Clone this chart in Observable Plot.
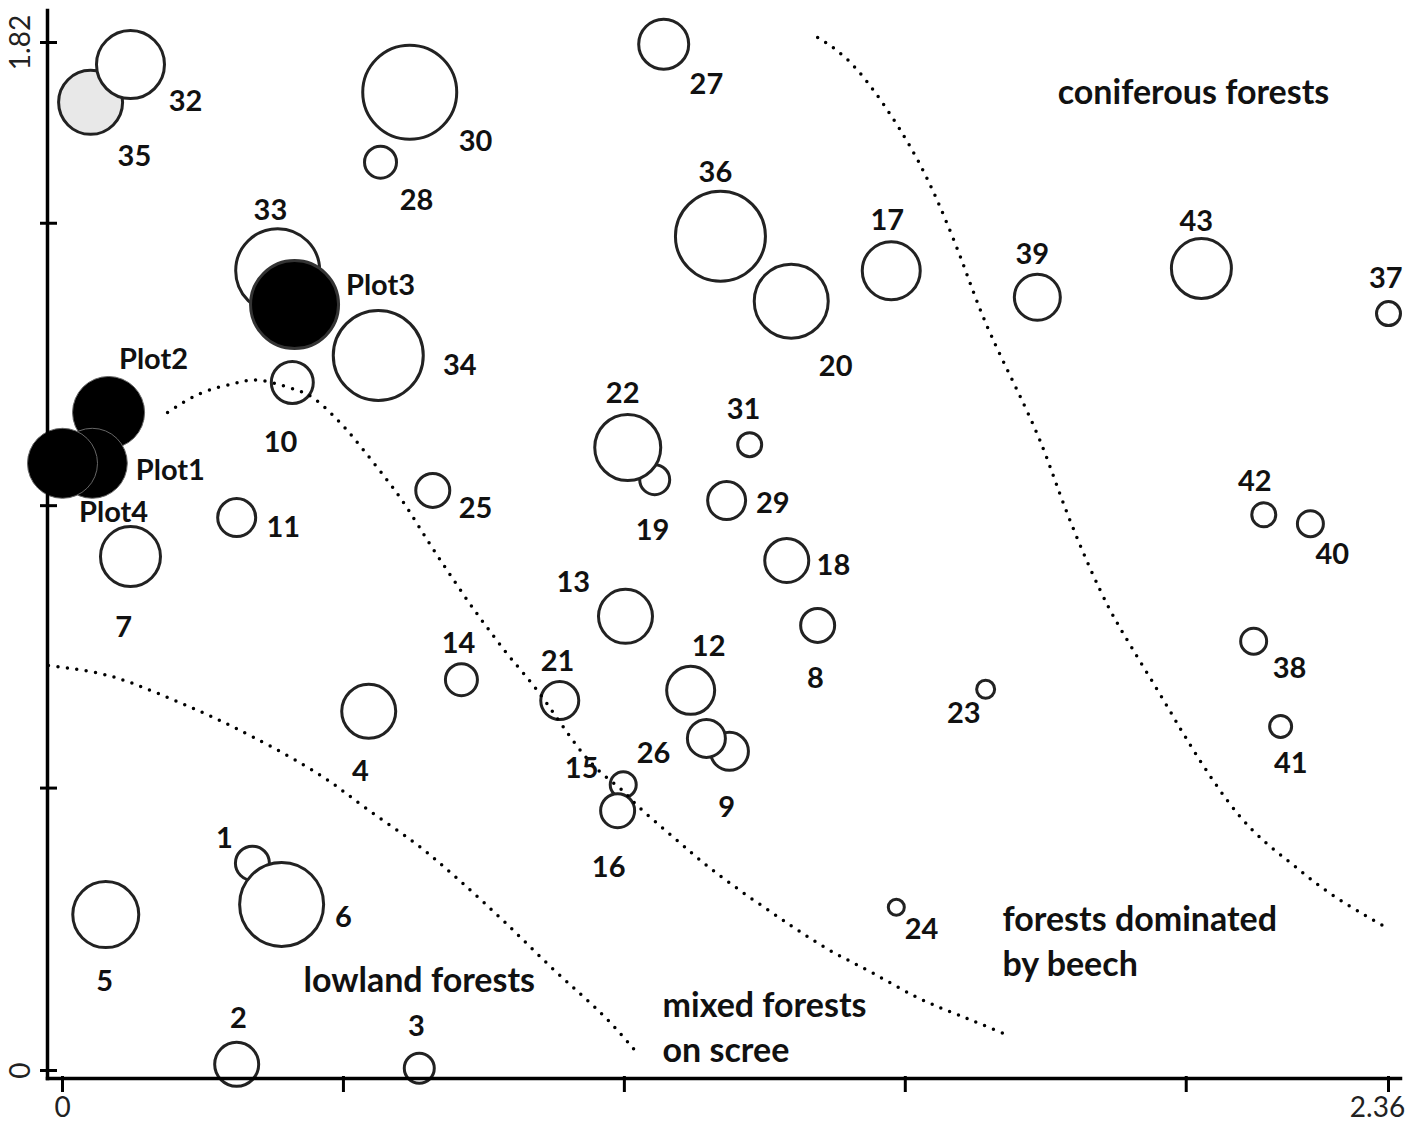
<!DOCTYPE html>
<html><head><meta charset="utf-8">
<script src="https://cdn.jsdelivr.net/npm/d3@7"></script>
<script src="https://cdn.jsdelivr.net/npm/@observablehq/plot@0.6"></script>
<style>body{margin:0;background:#fff;} svg{display:block;}</style>
</head><body><div id="chart"></div>
<script>
// Sites in drawing order (later ones on top)
const siteIds   = ["19","22","9","26","15","16","35","32","1","6","33","2","3","4","5","7","8","10","11","12","13","14","17","18","20","21","23","24","25","27","28","29","30","31","34","36","37","38","39","40","41","42","43","Plot2","Plot1","Plot4","Plot3"];
const siteX     = [1.054,1.006,1.187,1.146,0.998,0.988,0.050,0.121,0.338,0.390,0.383,0.310,0.635,0.545,0.077,0.121,1.344,0.409,0.310,1.118,1.002,0.710,1.475,1.289,1.297,0.885,1.643,1.484,0.659,1.070,0.566,1.182,0.618,1.223,0.562,1.171,2.360,2.120,1.735,2.221,2.168,2.138,2.027,0.082,0.053,0.000,0.413];
const siteY     = [1.046,1.103,0.565,0.588,0.506,0.460,1.714,1.781,0.367,0.294,1.416,0.011,0.004,0.636,0.276,0.910,0.788,1.218,0.979,0.673,0.804,0.692,1.416,0.903,1.362,0.655,0.675,0.289,1.027,1.817,1.608,1.009,1.732,1.108,1.266,1.477,1.340,0.760,1.369,0.968,0.609,0.984,1.420,1.165,1.075,1.075,1.356];
const siteSize  = [15,33,19,19,13,17,32,34,17,42,42,22,15,27,33,30,17,21,19,24,27,16,29,22,37,19,9,8,17,25,16,19,47,12,45,45,12,13,23,13,11,12,30,36,35,35,44];
const siteGroup = ["site","site","site","site","site","site","highlight","site","site","site","site","site","site","site","site","site","site","site","site","site","site","site","site","site","site","site","site","site","site","site","site","site","site","site","site","site","site","site","site","site","site","site","site","plot","plot","plot","plot"];
const labelX    = [1.050,0.997,1.182,1.052,0.924,0.972,0.128,0.219,0.288,0.500,0.370,0.313,0.630,0.530,0.075,0.109,1.340,0.388,0.393,1.150,0.909,0.705,1.468,1.372,1.376,0.881,1.604,1.529,0.735,1.146,0.630,1.264,0.735,1.212,0.707,1.162,2.355,2.184,1.726,2.260,2.186,2.122,2.018,0.162,0.192,0.091,0.566];
const labelY    = [0.956,1.199,0.466,0.561,0.535,0.359,1.618,1.716,0.411,0.271,1.523,0.092,0.078,0.529,0.158,0.784,0.694,1.112,0.961,0.751,0.864,0.756,1.505,0.894,1.246,0.724,0.632,0.250,0.995,1.746,1.540,1.004,1.645,1.169,1.248,1.590,1.402,0.712,1.445,0.914,0.544,1.043,1.503,1.259,1.061,0.988,1.390];

// Dotted boundaries between forest types
const lowlandX = [-0.025,0.066,0.144,0.242,0.340,0.454,0.538,0.628,0.707,0.790,0.876,0.959,1.020];
const lowlandY = [0.717,0.703,0.678,0.637,0.590,0.526,0.466,0.402,0.336,0.260,0.177,0.101,0.034];
const screeX = [0.187,0.246,0.304,0.352,0.406,0.447,0.495,0.536,0.578,0.614,0.650,0.685,0.721,0.756,0.797,0.845,0.892,0.945,0.993,1.023,1.087,1.153,1.224,1.296,1.367,1.443,1.522,1.598,1.678];
const screeY = [1.165,1.199,1.216,1.222,1.208,1.190,1.146,1.098,1.045,0.995,0.938,0.885,0.832,0.784,0.731,0.673,0.607,0.540,0.499,0.469,0.413,0.358,0.306,0.257,0.212,0.172,0.129,0.097,0.064];
const coniferX = [1.344,1.415,1.499,1.557,1.605,1.653,1.730,1.783,1.846,1.901,1.960,2.013,2.097,2.180,2.257,2.356];
const coniferY = [1.829,1.771,1.652,1.540,1.422,1.301,1.138,1.000,0.852,0.752,0.655,0.567,0.448,0.372,0.313,0.253];

// Region names
const regionCenterNames = ["coniferous forests","lowland forests"];
const regionCenterX = [2.013,0.635];
const regionCenterY = [1.730,0.158];
const regionStartNames = ["forests dominated\nby beech","mixed forests\non scree"];
const regionStartX = [1.673,1.068];
const regionStartY = [0.233,0.080];

// Axes
const xTicks = [0,0.5,1,1.5,2,2.36];
const yTicks = [0,0.5,1,1.5,1.82];
const xTickLabels = [0,2.36];
const yTickLabels = [0,1.82];

const sites = siteIds.map((id,i)=>({id, x:siteX[i], y:siteY[i], size:siteSize[i], group:siteGroup[i], lx:labelX[i], ly:labelY[i]}));
const toPts = (xs,ys)=>xs.map((x,i)=>({x, y:ys[i]}));
const curves = [toPts(lowlandX,lowlandY), toPts(screeX,screeY), toPts(coniferX,coniferY)];

const dotted = {x:"x", y:"y", curve:"natural", stroke:"#000", strokeWidth:3.5, strokeDasharray:"0,9.5", strokeLinecap:"round"};

const chart = Plot.plot({
  width:1423, height:1123,
  marginLeft:47, marginRight:23, marginTop:10, marginBottom:45,
  x:{domain:[0,2.36], range:[62,1388], axis:null},
  y:{domain:[0,1.82], range:[1070,42], axis:null},
  r:{type:"linear", domain:[0,50], range:[0,50]},
  color:{domain:["site","highlight","plot"], range:["#ffffff","#e8e8e8","#000000"]},
  style:{fontFamily:"Lato, sans-serif", background:"#fff"},
  marks:[
    Plot.dot(sites.filter(d=>d.group!=="plot"), {x:"x", y:"y", r:"size", fill:"group", stroke:"#222", strokeWidth:3, sort:null}),
    Plot.dot(sites.filter(d=>d.group==="plot" && d.id!=="Plot3"), {x:"x", y:"y", r:"size", fill:"group", stroke:"#666", strokeWidth:1, sort:null}),
    Plot.dot(sites.filter(d=>d.id==="Plot3"), {x:"x", y:"y", r:"size", fill:"group", stroke:"#333", strokeWidth:3, sort:null}),
    ...curves.map(c=>Plot.line(c, dotted)),
    Plot.text(sites, {x:"lx", y:"ly", text:"id", fontSize:29, fontWeight:"bold", fill:"#111"}),
    Plot.text(regionCenterNames, {x:(d,i)=>regionCenterX[i], y:(d,i)=>regionCenterY[i], text:d=>d, fontSize:34, fontWeight:"bold", fill:"#111"}),
    Plot.text(regionStartNames, {x:(d,i)=>regionStartX[i], y:(d,i)=>regionStartY[i], text:d=>d, fontSize:34, fontWeight:"bold", fill:"#111", textAnchor:"start", lineHeight:1.32}),
    Plot.frame({anchor:"bottom", stroke:"#000", strokeWidth:3.5}),
    Plot.frame({anchor:"left", stroke:"#000", strokeWidth:3.5}),
    Plot.tickX(xTicks, {x:d=>d, stroke:"#000", strokeWidth:3, insetTop:1066, insetBottom:-14}),
    Plot.tickY(yTicks, {y:d=>d, stroke:"#000", strokeWidth:3, insetLeft:-7, insetRight:1343}),
    Plot.text([xTickLabels[0]], {x:d=>d, frameAnchor:"bottom", textAnchor:"middle", lineAnchor:"middle", dy:30, text:d=>String(d), fontSize:28, fill:"#222"}),
    Plot.text([xTickLabels[1]], {x:d=>d, frameAnchor:"bottom", textAnchor:"middle", lineAnchor:"middle", dy:30, dx:-11, text:d=>String(d), fontSize:28, fill:"#222"}),
    Plot.text(yTickLabels, {y:d=>d, frameAnchor:"left", textAnchor:"middle", lineAnchor:"middle", dx:-26, rotate:-90, text:d=>String(d), fontSize:28, fill:"#222"})
  ]
});
document.getElementById("chart").appendChild(chart);
</script>
</body></html>
